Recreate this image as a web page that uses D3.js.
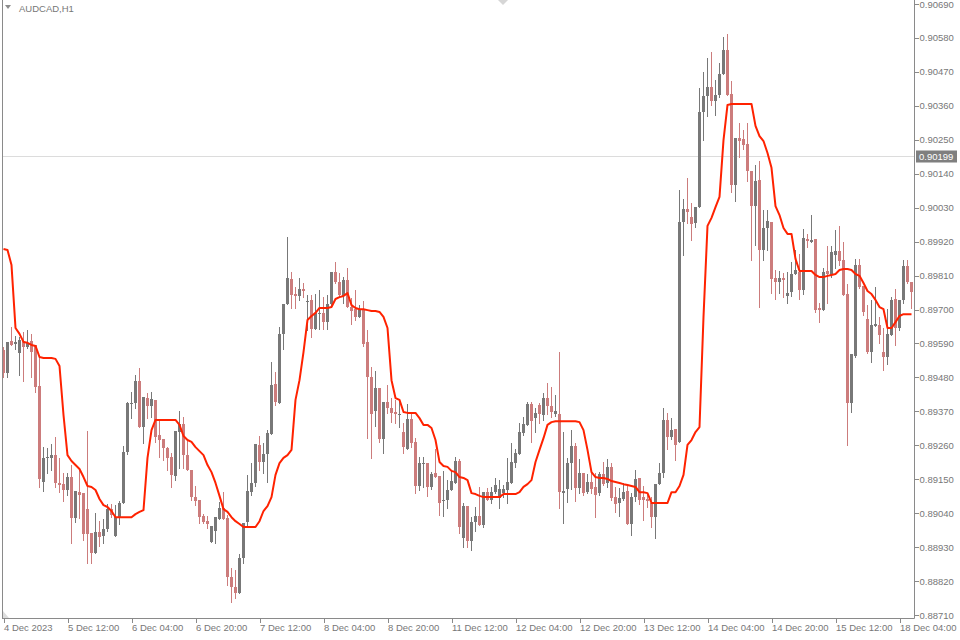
<!DOCTYPE html>
<html>
<head>
<meta charset="utf-8">
<script src="https://cdn.jsdelivr.net/npm/d3@7"></script>
<style>
  html, body { margin: 0; padding: 0; background: #ffffff; }
  svg { display: block; }
  text { font-family: "Liberation Sans", Arial, sans-serif; }
</style>
</head>
<body>
<script>
// ---------- DATA ----------
const symbol = "AUDCAD,H1";
const currentPrice = 0.90199;
const priceTicks = ["0.90690","0.90580","0.90470","0.90360","0.90250","0.90140","0.90030","0.89920","0.89810","0.89700","0.89590","0.89480","0.89370","0.89260","0.89150","0.89040","0.88930","0.88820","0.88710"];
const timeTickIndex = [0,16,32,48,64,80,96,112,128,144,160,176,192,208,224];
const timeTickLabels = ["4 Dec 2023","5 Dec 12:00","6 Dec 04:00","6 Dec 20:00","7 Dec 12:00","8 Dec 04:00","8 Dec 20:00","11 Dec 12:00","12 Dec 04:00","12 Dec 20:00","13 Dec 12:00","14 Dec 04:00","14 Dec 20:00","15 Dec 12:00","18 Dec 04:00"];

const open = [
0.89569,0.89494,0.89598,0.89588,0.89559,0.89598,0.89579,0.89598,0.89585,0.89452,
0.89141,0.89219,0.89219,0.89228,0.89138,0.89134,0.89115,0.89157,0.89024,0.89108,
0.89105,0.89053,0.88976,0.88911,0.88979,0.88966,0.88989,0.89053,0.88966,0.89027,
0.89073,0.89238,0.89394,0.89397,0.89468,0.89319,0.89413,0.89387,0.89407,0.89293,
0.89280,0.89251,0.89222,0.89160,0.89303,0.89329,0.89228,0.89180,0.89092,0.89082,
0.89031,0.89014,0.88946,0.88982,0.89021,0.89057,0.89024,0.88833,0.88801,0.88781,
0.88895,0.89011,0.89108,0.89138,0.89261,0.89206,0.89232,0.89296,0.89459,0.89397,
0.89621,0.89718,0.89799,0.89750,0.89744,0.89766,0.89727,0.89731,0.89637,0.89689,
0.89689,0.89659,0.89718,0.89821,0.89789,0.89744,0.89796,0.89708,0.89701,0.89676,
0.89698,0.89595,0.89481,0.89371,0.89446,0.89280,0.89400,0.89381,0.89368,0.89361,
0.89303,0.89248,0.89345,0.89271,0.89128,0.89202,0.89202,0.89125,0.89170,0.89160,
0.89082,0.89082,0.89115,0.89138,0.89209,0.88959,0.89063,0.88950,0.89011,0.89031,
0.89002,0.89108,0.89082,0.89108,0.89089,0.89105,0.89115,0.89138,0.89202,0.89232,
0.89300,0.89326,0.89394,0.89348,0.89390,0.89358,0.89413,0.89387,0.89361,0.89361,
0.89105,0.89118,0.89202,0.89258,0.89121,0.89170,0.89108,0.89141,0.89125,0.89105,
0.89167,0.89138,0.89190,0.89092,0.89073,0.89086,0.89112,0.89005,0.89092,0.89154,
0.89092,0.89086,0.89073,0.89027,0.89134,0.89170,0.89342,0.89287,0.89313,0.89271,
0.89983,0.90026,0.90000,0.89980,0.90032,0.90340,0.90392,0.90421,0.90376,0.90395,
0.90463,0.90541,0.90398,0.90103,0.90256,0.90253,0.90236,0.90149,0.90035,0.90120,
0.89893,0.89964,0.89983,0.89802,0.89789,0.89802,0.89744,0.89757,0.89815,0.89821,
0.89763,0.89928,0.89919,0.89928,0.89705,0.89698,0.89825,0.89812,0.89877,0.89890,
0.89860,0.89750,0.89397,0.89549,0.89844,0.89776,0.89669,0.89562,0.89646,0.89650,
0.89562,0.89546,0.89617,0.89734,0.89640,0.89731,0.89841,0.89789];

const high = [
0.89579,0.89595,0.89643,0.89614,0.89611,0.89627,0.89634,0.89621,0.89585,0.89546,
0.89254,0.89251,0.89264,0.89287,0.89219,0.89170,0.89170,0.89196,0.89112,0.89180,
0.89105,0.89306,0.88976,0.89040,0.89014,0.89021,0.89070,0.89070,0.89066,0.89079,
0.89258,0.89400,0.89433,0.89488,0.89510,0.89416,0.89429,0.89433,0.89407,0.89342,
0.89280,0.89254,0.89235,0.89306,0.89371,0.89352,0.89277,0.89180,0.89128,0.89082,
0.89037,0.89031,0.88998,0.89027,0.89076,0.89108,0.89034,0.88862,0.88856,0.88908,
0.89008,0.89164,0.89202,0.89264,0.89290,0.89267,0.89309,0.89530,0.89497,0.89643,
0.89718,0.89935,0.89821,0.89773,0.89802,0.89786,0.89747,0.89747,0.89750,0.89763,
0.89740,0.89747,0.89821,0.89854,0.89818,0.89805,0.89834,0.89737,0.89763,0.89714,
0.89727,0.89634,0.89514,0.89501,0.89446,0.89400,0.89455,0.89413,0.89407,0.89407,
0.89332,0.89394,0.89365,0.89283,0.89222,0.89222,0.89202,0.89173,0.89248,0.89160,
0.89177,0.89147,0.89180,0.89222,0.89215,0.89073,0.89063,0.89027,0.89060,0.89125,
0.89108,0.89121,0.89125,0.89154,0.89147,0.89131,0.89219,0.89267,0.89248,0.89332,
0.89352,0.89400,0.89400,0.89381,0.89397,0.89429,0.89462,0.89449,0.89423,0.89562,
0.89303,0.89219,0.89309,0.89267,0.89215,0.89170,0.89167,0.89170,0.89170,0.89173,
0.89206,0.89215,0.89202,0.89125,0.89121,0.89138,0.89128,0.89105,0.89180,0.89154,
0.89128,0.89099,0.89092,0.89134,0.89202,0.89381,0.89365,0.89348,0.89313,0.90087,
0.90058,0.90126,0.90045,0.90032,0.90418,0.90470,0.90515,0.90535,0.90444,0.90499,
0.90583,0.90593,0.90441,0.90256,0.90304,0.90282,0.90304,0.90149,0.90168,0.90181,
0.90022,0.90022,0.89983,0.89828,0.89825,0.89818,0.89821,0.89854,0.89893,0.89880,
0.89961,0.89945,0.90006,0.89928,0.89721,0.89834,0.89906,0.89906,0.89958,0.89971,
0.89919,0.89783,0.89556,0.89864,0.89864,0.89776,0.89714,0.89731,0.89773,0.89676,
0.89640,0.89701,0.89740,0.89766,0.89731,0.89860,0.89860,0.89789];

const low = [
0.89481,0.89481,0.89585,0.89572,0.89488,0.89468,0.89575,0.89481,0.89433,0.89125,
0.89112,0.89170,0.89180,0.89125,0.89108,0.89079,0.89099,0.88943,0.89011,0.89024,
0.88953,0.88878,0.88878,0.88911,0.88933,0.88943,0.88982,0.89027,0.88966,0.89005,
0.89073,0.89232,0.89348,0.89381,0.89319,0.89267,0.89348,0.89352,0.89271,0.89222,
0.89212,0.89180,0.89125,0.89147,0.89186,0.89186,0.89180,0.89082,0.89066,0.89008,
0.89008,0.88992,0.88946,0.88943,0.89021,0.89021,0.88807,0.88752,0.88765,0.88781,
0.88878,0.89002,0.89099,0.89128,0.89180,0.89170,0.89141,0.89296,0.89390,0.89397,
0.89572,0.89718,0.89705,0.89705,0.89731,0.89740,0.89634,0.89611,0.89637,0.89637,
0.89637,0.89637,0.89714,0.89786,0.89740,0.89721,0.89708,0.89653,0.89666,0.89676,
0.89582,0.89283,0.89219,0.89322,0.89271,0.89235,0.89365,0.89335,0.89332,0.89319,
0.89235,0.89248,0.89254,0.89105,0.89115,0.89125,0.89096,0.89118,0.89157,0.89034,
0.89031,0.89057,0.89115,0.89138,0.88976,0.88930,0.88930,0.88920,0.88982,0.89002,
0.88995,0.89082,0.89073,0.89105,0.89057,0.89092,0.89073,0.89138,0.89190,0.89232,
0.89293,0.89326,0.89271,0.89303,0.89332,0.89342,0.89361,0.89352,0.89355,0.89057,
0.89008,0.89076,0.89118,0.89079,0.89105,0.89099,0.89105,0.89105,0.89027,0.89099,
0.89131,0.89125,0.89082,0.89044,0.89031,0.89082,0.89005,0.88969,0.89079,0.89070,
0.89018,0.89060,0.88995,0.88959,0.89134,0.89157,0.89248,0.89280,0.89212,0.89271,
0.89877,0.89980,0.89925,0.89967,0.90032,0.90249,0.90327,0.90363,0.90330,0.90389,
0.90463,0.90395,0.90081,0.90052,0.90194,0.90220,0.90116,0.89860,0.89909,0.89708,
0.89860,0.89893,0.89753,0.89734,0.89753,0.89740,0.89721,0.89744,0.89815,0.89734,
0.89750,0.89902,0.89919,0.89692,0.89659,0.89698,0.89721,0.89805,0.89834,0.89844,
0.89747,0.89261,0.89368,0.89546,0.89770,0.89682,0.89559,0.89530,0.89646,0.89592,
0.89504,0.89523,0.89617,0.89585,0.89634,0.89721,0.89786,0.89705];

const close = [
0.89494,0.89595,0.89585,0.89595,0.89601,0.89579,0.89592,0.89562,0.89449,0.89151,
0.89219,0.89222,0.89228,0.89138,0.89131,0.89115,0.89157,0.89024,0.89112,0.89099,
0.88972,0.88972,0.88911,0.88979,0.88963,0.88989,0.89053,0.89034,0.89027,0.89073,
0.89238,0.89397,0.89397,0.89468,0.89319,0.89416,0.89387,0.89410,0.89287,0.89277,
0.89251,0.89219,0.89164,0.89306,0.89329,0.89228,0.89180,0.89092,0.89079,0.89027,
0.89011,0.89005,0.88998,0.89027,0.89057,0.89021,0.88833,0.88801,0.88781,0.88895,
0.89008,0.89112,0.89138,0.89264,0.89206,0.89232,0.89300,0.89455,0.89400,0.89621,
0.89718,0.89802,0.89747,0.89744,0.89766,0.89760,0.89727,0.89637,0.89689,0.89689,
0.89659,0.89718,0.89821,0.89789,0.89747,0.89796,0.89708,0.89695,0.89676,0.89701,
0.89588,0.89481,0.89361,0.89446,0.89280,0.89400,0.89381,0.89365,0.89361,0.89361,
0.89254,0.89345,0.89267,0.89128,0.89202,0.89202,0.89125,0.89167,0.89157,0.89073,
0.89082,0.89115,0.89144,0.89209,0.88995,0.89063,0.88950,0.89011,0.89031,0.89002,
0.89108,0.89082,0.89108,0.89131,0.89118,0.89118,0.89141,0.89206,0.89235,0.89303,
0.89329,0.89394,0.89338,0.89365,0.89361,0.89413,0.89387,0.89368,0.89371,0.89108,
0.89112,0.89202,0.89258,0.89121,0.89170,0.89105,0.89141,0.89118,0.89099,0.89167,
0.89134,0.89190,0.89089,0.89070,0.89089,0.89108,0.89005,0.89092,0.89151,0.89082,
0.89082,0.89079,0.89027,0.89134,0.89170,0.89342,0.89287,0.89309,0.89261,0.89983,
0.90026,0.90016,0.89977,0.90032,0.90340,0.90392,0.90421,0.90376,0.90395,0.90463,
0.90541,0.90395,0.90103,0.90256,0.90246,0.90233,0.90149,0.90035,0.90116,0.89893,
0.89964,0.89987,0.89799,0.89789,0.89802,0.89796,0.89753,0.89815,0.89828,0.89763,
0.89932,0.89922,0.89925,0.89698,0.89698,0.89821,0.89815,0.89886,0.89890,0.89857,
0.89747,0.89397,0.89556,0.89844,0.89773,0.89692,0.89562,0.89650,0.89653,0.89617,
0.89546,0.89621,0.89731,0.89640,0.89731,0.89841,0.89789,0.89757];

const indicator = [
0.89896,0.89893,0.89844,0.89640,0.89621,0.89595,0.89592,0.89585,0.89582,0.89546,
0.89543,0.89543,0.89543,0.89540,0.89517,0.89358,0.89228,0.89209,0.89196,0.89183,
0.89157,0.89128,0.89125,0.89115,0.89086,0.89066,0.89060,0.89047,0.89027,0.89027,
0.89027,0.89027,0.89027,0.89037,0.89044,0.89050,0.89219,0.89309,0.89342,0.89342,
0.89342,0.89342,0.89342,0.89342,0.89326,0.89290,0.89277,0.89271,0.89254,0.89241,
0.89228,0.89196,0.89173,0.89138,0.89096,0.89053,0.89044,0.89027,0.89014,0.89005,
0.88995,0.88995,0.88995,0.88995,0.89014,0.89047,0.89063,0.89092,0.89164,0.89202,
0.89219,0.89228,0.89245,0.89407,0.89471,0.89562,0.89666,0.89679,0.89689,0.89705,
0.89705,0.89705,0.89708,0.89734,0.89740,0.89744,0.89753,0.89714,0.89705,0.89701,
0.89701,0.89698,0.89695,0.89695,0.89692,0.89676,0.89640,0.89471,0.89413,0.89407,
0.89368,0.89365,0.89365,0.89365,0.89348,0.89326,0.89326,0.89316,0.89277,0.89206,
0.89193,0.89190,0.89177,0.89173,0.89157,0.89154,0.89147,0.89105,0.89102,0.89096,
0.89092,0.89092,0.89092,0.89092,0.89092,0.89102,0.89102,0.89102,0.89102,0.89108,
0.89125,0.89134,0.89147,0.89206,0.89245,0.89283,0.89326,0.89335,0.89338,0.89338,
0.89338,0.89338,0.89338,0.89338,0.89335,0.89309,0.89245,0.89173,0.89157,0.89154,
0.89154,0.89151,0.89144,0.89141,0.89138,0.89134,0.89131,0.89128,0.89125,0.89108,
0.89108,0.89105,0.89073,0.89073,0.89073,0.89073,0.89073,0.89108,0.89108,0.89128,
0.89164,0.89261,0.89277,0.89303,0.89319,0.89676,0.89971,0.89997,0.90032,0.90065,
0.90249,0.90363,0.90366,0.90366,0.90366,0.90366,0.90366,0.90366,0.90295,0.90262,
0.90246,0.90207,0.90159,0.90035,0.90006,0.89964,0.89945,0.89945,0.89864,0.89825,
0.89825,0.89825,0.89825,0.89812,0.89805,0.89805,0.89809,0.89812,0.89815,0.89828,
0.89831,0.89831,0.89828,0.89815,0.89809,0.89786,0.89760,0.89750,0.89731,0.89708,
0.89701,0.89640,0.89640,0.89659,0.89679,0.89685,0.89685,0.89685];

// ---------- CHART ----------
const W = 960, H = 640;
const plotRight = 914, plotBottom = 618;
const bullColor = "#787878", bearColor = "#cc7c7c", lineColor = "#ff2200";
const axisColor = "#8a8a8a", textColor = "#777777";

const svg = d3.select("body").append("svg").attr("width", W).attr("height", H);

const n = open.length;
const x = d3.scaleLinear().domain([0, n - 1]).range([3.5, 3.5 + 4 * (n - 1)]);
const y = d3.scaleLinear().domain([0.88710, 0.90690]).range([615, 4]);

// current price line
const cpY = Math.round(y(currentPrice)) + 0.5;
svg.append("line").attr("x1", 2).attr("x2", plotRight).attr("y1", cpY).attr("y2", cpY)
  .attr("stroke", "#dcdcdc").attr("stroke-width", 1);

// candles
const candles = svg.append("g").attr("shape-rendering", "crispEdges");
const idx = d3.range(n);
candles.selectAll("line.wick").data(idx).join("line")
  .attr("class", "wick")
  .attr("x1", i => x(i)).attr("x2", i => x(i))
  .attr("y1", i => Math.round(y(high[i]))).attr("y2", i => Math.round(y(low[i])) + 1)
  .attr("stroke", i => close[i] >= open[i] ? bullColor : bearColor)
  .attr("stroke-width", 1);
candles.selectAll("rect.body").data(idx).join("rect")
  .attr("class", "body")
  .attr("x", i => x(i) - 1.5)
  .attr("width", 3)
  .attr("y", i => Math.round(y(Math.max(open[i], close[i]))))
  .attr("height", i => Math.max(1, Math.round(y(Math.min(open[i], close[i]))) - Math.round(y(Math.max(open[i], close[i])))))
  .attr("fill", i => close[i] >= open[i] ? bullColor : bearColor);

// indicator line
const line = d3.line().x((d, i) => x(i)).y(d => y(d));
svg.append("path").datum(indicator)
  .attr("d", line)
  .attr("fill", "none")
  .attr("stroke", lineColor)
  .attr("stroke-width", 2)
  .attr("stroke-linejoin", "round");

// frame
svg.append("line").attr("x1", 2.5).attr("x2", 2.5).attr("y1", 0).attr("y2", plotBottom + 0.5)
  .attr("stroke", axisColor);
svg.append("line").attr("x1", 2).attr("x2", plotRight + 0.5).attr("y1", plotBottom + 0.5).attr("y2", plotBottom + 0.5)
  .attr("stroke", axisColor);
svg.append("line").attr("x1", plotRight + 0.5).attr("x2", plotRight + 0.5).attr("y1", 0).attr("y2", plotBottom + 0.5)
  .attr("stroke", axisColor);

// right price axis
const yAxis = d3.axisRight(y)
  .tickValues(priceTicks.map(Number))
  .tickFormat((d, i) => priceTicks[i])
  .tickSizeInner(4).tickSizeOuter(0).tickPadding(1);
const gy = svg.append("g").attr("transform", `translate(${plotRight + 0.5},0)`).call(yAxis);
gy.select(".domain").remove();
gy.selectAll(".tick line").attr("stroke", axisColor).attr("shape-rendering", "crispEdges");
gy.selectAll(".tick text").attr("fill", textColor).attr("font-size", "9.5px")
  .attr("font-family", "Liberation Sans, Arial, sans-serif");

// bottom time axis
const xAxis = d3.axisBottom(x)
  .tickValues(timeTickIndex)
  .tickFormat((d, i) => timeTickLabels[i])
  .tickSizeInner(4).tickSizeOuter(0).tickPadding(2);
const gx = svg.append("g").attr("transform", `translate(0,${plotBottom + 0.5})`).call(xAxis);
gx.select(".domain").remove();
gx.selectAll(".tick line").attr("stroke", axisColor).attr("shape-rendering", "crispEdges");
gx.selectAll(".tick text").attr("fill", textColor).attr("font-size", "9.5px")
  .attr("text-anchor", "start")
  .attr("font-family", "Liberation Sans, Arial, sans-serif");

// current price label
const lbl = svg.append("g");
lbl.append("rect").attr("x", 916).attr("y", cpY - 6).attr("width", 41).attr("height", 12)
  .attr("fill", "#7f7f7f");
lbl.append("text").attr("x", 919).attr("y", cpY).attr("dy", "0.34em")
  .attr("fill", "#ffffff").attr("font-size", "9.5px").text(currentPrice.toFixed(5));

// title
svg.append("path").attr("d", "M5,5 L11,5 L8,9 Z").attr("fill", "#8c8c8c");
svg.append("text").attr("x", 19).attr("y", 12).attr("fill", textColor)
  .attr("font-size", "9.5px").text(symbol);

// small markers
svg.append("path").attr("d", "M498,0 L508,0 L503,5 Z").attr("fill", "#d6d6d6");
svg.append("path").attr("d", "M3,611 L3,618 L9,618 Z").attr("fill", "#dddddd");
</script>
</body>
</html>
